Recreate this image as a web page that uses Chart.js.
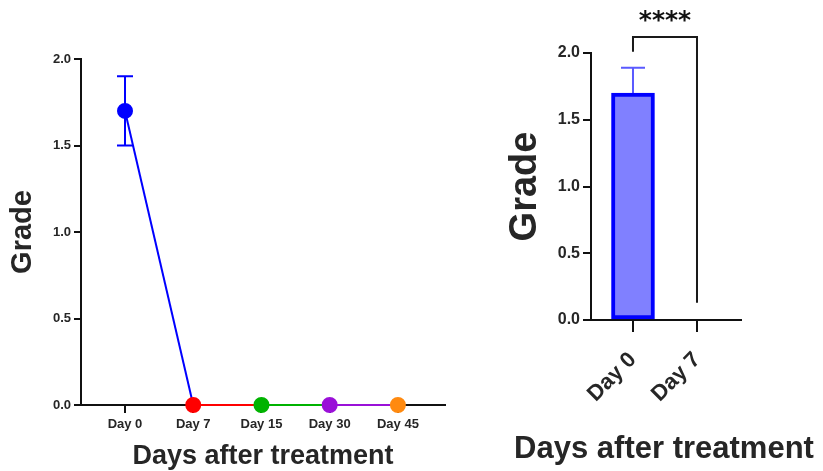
<!DOCTYPE html>
<html>
<head>
<meta charset="utf-8">
<script src="https://cdn.jsdelivr.net/npm/chart.js@4/dist/chart.umd.min.js"></script>
<style>
  html, body { margin: 0; padding: 0; background: #fff; }
  #wrap { position: relative; width: 823px; height: 471px; overflow: hidden; }
  #lineChart { position: absolute; left: 0; top: 0; }
  #barChart { position: absolute; left: 470px; top: 0; }
</style>
</head>
<body>
<div id="wrap">
  <canvas id="lineChart" width="470" height="471"></canvas>
  <canvas id="barChart" width="353" height="471"></canvas>
</div>
<script>
'use strict';

// --- data ---
var dayLabels = ['Day 0', 'Day 7', 'Day 15', 'Day 30', 'Day 45'];
var gradeMeans = [1.7, 0, 0, 0, 0];
var gradeErrors = [0.2, 0, 0, 0, 0];
var pointColors = ['#0000ff', '#ff0000', '#00b300', '#9a10d8', '#ff8a10'];

var barLabels = ['Day 0', 'Day 7'];
var barMeans = [1.7, 0];
var barErrors = [0.19, 0];
var bracketTop = 2.12;          // 横线所在的 y 值
var bracketFeet = [2.01, 0.13]; // 左右两条竖线的下端
var sigText = '****';

var yTicks = [0, 0.5, 1, 1.5, 2];

var FONT = '"Liberation Sans", Arial, Helvetica, sans-serif';
var TEXT = '#262626';

/** 误差线：先画，让点或柱子盖住下半截 */
var errorBarPlugin = {
  id: 'errorBars',
  beforeDatasetsDraw: function (chart, args, opts) {
    var ctx = chart.ctx;
    var ys = chart.scales.y;
    var xs = chart.scales.x;
    ctx.save();
    ctx.strokeStyle = opts.color;
    ctx.lineWidth = opts.width;
    opts.errors.forEach(function (err, i) {
      if (!err) return;
      var v = opts.means[i];
      var x = xs.getPixelForValue(i);
      var top = ys.getPixelForValue(v + err);
      var bot = ys.getPixelForValue(v - err);
      ctx.beginPath();
      ctx.moveTo(x, top); ctx.lineTo(x, bot);
      ctx.moveTo(x - opts.cap, top); ctx.lineTo(x + opts.cap, top);
      ctx.moveTo(x - opts.cap, bot); ctx.lineTo(x + opts.cap, bot);
      ctx.stroke();
    });
    ctx.restore();
  }
};

/** 显著性括号、星号，以及不受轴宽限制的 x 轴标题 */
var sigPlugin = {
  id: 'sigBracket',
  afterDraw: function (chart) {
    var ctx = chart.ctx;
    var xs = chart.scales.x;
    var ys = chart.scales.y;
    var x0 = xs.getPixelForValue(0);
    var x1 = xs.getPixelForValue(1);
    var yt = ys.getPixelForValue(bracketTop);
    ctx.save();
    ctx.strokeStyle = '#1a1a1a';
    ctx.lineWidth = 2;
    ctx.beginPath();
    ctx.moveTo(x0, ys.getPixelForValue(bracketFeet[0]));
    ctx.lineTo(x0, yt);
    ctx.lineTo(x1, yt);
    ctx.lineTo(x1, ys.getPixelForValue(bracketFeet[1]));
    ctx.stroke();
    ctx.fillStyle = '#111';
    ctx.font = 'bold 25px "DejaVu Sans", sans-serif';
    ctx.textAlign = 'center';
    ctx.textBaseline = 'middle';
    ctx.fillText(sigText, (x0 + x1) / 2, yt - 15);

    ctx.fillStyle = TEXT;
    ctx.font = 'bold 31px ' + FONT;
    ctx.fillText('Days after treatment', (xs.left + xs.right) / 2 - 2, chart.height - 22);
    ctx.restore();
  }
};

function fixedTicks(values) {
  return function (scale) {
    scale.ticks = values.map(function (v) { return { value: v }; });
  };
}

function axisGrid(len) {
  return { offset: false, drawOnChartArea: false, drawTicks: true, tickLength: len, color: '#111', lineWidth: 2 };
}

// --- 左图：折线 ---
new Chart(document.getElementById('lineChart'), {
  type: 'line',
  data: {
    datasets: [{
      data: gradeMeans.map(function (v, i) { return { x: i, y: v }; }),
      borderWidth: 2,
      pointRadius: 7,
      pointHoverRadius: 7,
      pointBackgroundColor: pointColors,
      pointBorderColor: pointColors,
      borderColor: pointColors[0],
      segment: {
        borderColor: function (c) { return pointColors[c.p0DataIndex]; }
      },
      clip: false,
      tension: 0
    }]
  },
  options: {
    responsive: false,
    animation: false,
    events: [],
    layout: { padding: { top: 59, right: 25, left: 0, bottom: 0 } },
    plugins: {
      legend: { display: false },
      tooltip: { enabled: false },
      errorBars: { errors: gradeErrors, means: gradeMeans, color: '#0000ff', width: 2, cap: 8 }
    },
    scales: {
      x: {
        type: 'linear',
        min: -0.645,
        max: 4.69,
        afterBuildTicks: fixedTicks(dayLabels.map(function (_, i) { return i; })),
        afterFit: function (s) { s.height = 66; },
        grid: axisGrid(8),
        border: { display: true, color: '#111', width: 2 },
        ticks: {
          color: TEXT,
          padding: 4,
          maxRotation: 0,
          font: { family: FONT, size: 13, weight: 'bold' },
          callback: function (v) { return dayLabels[v]; }
        },
        title: {
          display: true,
          text: 'Days after treatment',
          color: TEXT,
          padding: { top: 0, bottom: -2 },
          font: { family: FONT, size: 27, weight: 'bold' }
        }
      },
      y: {
        min: 0,
        max: 2,
        afterBuildTicks: fixedTicks(yTicks),
        afterFit: function (s) { s.width = 81; },
        grid: axisGrid(7),
        border: { display: true, color: '#111', width: 2 },
        ticks: {
          color: TEXT,
          padding: 3,
          font: { family: FONT, size: 13, weight: 'bold' },
          callback: function (v) { return v.toFixed(1); }
        },
        title: {
          display: true,
          text: 'Grade',
          color: TEXT,
          padding: { top: 6, bottom: 0 },
          font: { family: FONT, size: 29, weight: 'bold' }
        }
      }
    }
  },
  plugins: [errorBarPlugin]
});

// --- 右图：柱状 ---
new Chart(document.getElementById('barChart'), {
  type: 'bar',
  data: {
    datasets: [{
      data: barMeans.map(function (v, i) { return { x: i, y: v }; }),
      backgroundColor: '#8080ff',
      borderColor: '#0000ff',
      borderWidth: 4,
      borderSkipped: false,
      barThickness: 43
    }]
  },
  options: {
    responsive: false,
    animation: false,
    events: [],
    layout: { padding: { top: 53, right: 82, left: 0, bottom: 0 } },
    plugins: {
      legend: { display: false },
      tooltip: { enabled: false },
      errorBars: { errors: barErrors, means: barMeans, color: '#5a5aff', width: 2, cap: 12 }
    },
    scales: {
      x: {
        type: 'linear',
        offset: false,
        min: -0.656,
        max: 1.6875,
        afterBuildTicks: fixedTicks(barLabels.map(function (_, i) { return i; })),
        afterFit: function (s) { s.height = 151; },
        grid: axisGrid(12),
        border: { display: true, color: '#111', width: 2 },
        ticks: {
          color: TEXT,
          padding: 15,
          minRotation: 45,
          maxRotation: 45,
          font: { family: FONT, size: 22, weight: 'bold' },
          callback: function (v) { return barLabels[v]; }
        },
        title: { display: false }
      },
      y: {
        min: 0,
        max: 2,
        afterBuildTicks: fixedTicks(yTicks),
        afterFit: function (s) { s.width = 121; },
        grid: axisGrid(8),
        border: { display: true, color: '#111', width: 2 },
        ticks: {
          color: TEXT,
          padding: 3,
          font: { family: FONT, size: 16, weight: 'bold' },
          callback: function (v) { return v.toFixed(1); }
        },
        title: {
          display: true,
          text: 'Grade',
          color: TEXT,
          padding: { top: 33, bottom: 0 },
          font: { family: FONT, size: 38, weight: 'bold' }
        }
      }
    }
  },
  plugins: [errorBarPlugin, sigPlugin]
});
</script>
</body>
</html>
